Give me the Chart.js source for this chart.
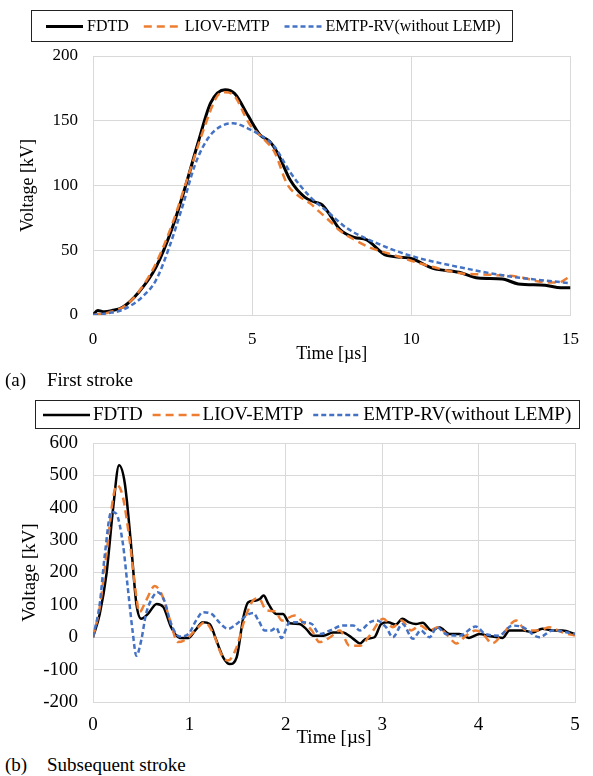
<!DOCTYPE html>
<html>
<head>
<meta charset="utf-8">
<script src="https://cdn.jsdelivr.net/npm/chart.js@4.4.1/dist/chart.umd.min.js"></script>
<style>
  body { margin: 0; background: #fff; }
  #page { position: relative; width: 593px; height: 776px; overflow: hidden; }
  .box { position: absolute; left: 0; width: 593px; height: 365px; }
  .cap { position: absolute; font-family: "Liberation Serif", serif; font-size: 19px; line-height: 20px; color: #000; white-space: nowrap; z-index: 2; }
</style>
</head>
<body>
<div id="page">
  <div class="box" style="top:0"><canvas id="chartA"></canvas></div>
  <div class="box" style="top:384px"><canvas id="chartB"></canvas></div>
  <div class="cap" style="left:5px; top:370px">(a)</div>
  <div class="cap" style="left:47px; top:370px">First stroke</div>
  <div class="cap" style="left:5px; top:755px">(b)</div>
  <div class="cap" style="left:47px; top:755px">Subsequent stroke</div>
</div>
<script>
// (a) first stroke, time in us, voltage in kV
var tA_fdtd = [0, 0.15, 0.35, 0.6, 0.93, 1.45, 1.98, 2.5, 2.9, 3.3, 3.7, 4.15, 4.45, 4.87, 5.25, 5.55, 5.8, 6.2, 6.65, 7.0, 7.2, 7.45, 7.76, 8.2, 8.6, 9.22, 9.94, 10.68, 11.5, 12.1, 12.86, 13.36, 14.2, 14.7, 15];
var vA_fdtd = [0, 3.5, 2.5, 3.5, 6, 18, 37, 68, 99, 133, 164, 174, 171, 154, 139, 134, 125, 104, 91, 87, 85, 77, 66, 60, 58, 46, 44, 36, 33, 28.5, 27.8, 24, 23, 21, 21];
var tA_liov = [0, 0.5, 1.0, 1.5, 2.0, 2.5, 3.0, 3.5, 3.9, 4.15, 4.45, 4.9, 5.4, 5.7, 6.1, 6.45, 6.83, 7.1, 7.46, 7.76, 8.3, 8.7, 9.22, 10.25, 11.5, 12.5, 13.36, 14.1, 14.6, 15];
var vA_liov = [0, 2, 7, 20, 41, 71, 108, 145, 169, 172, 169, 148, 135, 126, 101, 92, 86, 80, 72, 65, 57, 52, 48, 40, 32.5, 31, 29.5, 25.5, 25, 30];
var tA_emtp = [0, 0.5, 0.93, 1.55, 1.98, 2.39, 2.8, 3.22, 3.63, 4.04, 4.4, 4.87, 5.25, 5.7, 6.2, 6.83, 7.36, 7.98, 8.91, 9.94, 11.5, 13.04, 15];
var vA_emtp = [0, 1.5, 4, 14, 27, 52, 83, 117, 137, 146, 148, 144, 139, 130, 110, 91, 80, 67, 55.5, 46, 37, 30, 24.5];

// (b) subsequent stroke
var tB_fdtd = [0, 0.07, 0.14, 0.21, 0.27, 0.33, 0.40, 0.45, 0.50, 0.57, 0.66, 0.73, 0.81, 0.90, 0.99, 1.06, 1.14, 1.21, 1.28, 1.35, 1.42, 1.49, 1.56, 1.61, 1.68, 1.73, 1.77, 1.82, 1.90, 1.97, 2.04, 2.14, 2.21, 2.28, 2.39, 2.49, 2.59, 2.70, 2.77, 2.83, 2.92, 2.99, 3.06, 3.14, 3.21, 3.28, 3.35, 3.42, 3.51, 3.59, 3.70, 3.80, 3.90, 4.01, 4.11, 4.25, 4.32, 4.46, 4.56, 4.66, 4.77, 4.87, 5.0];
var vB_fdtd = [0, 72, 196, 402, 531, 475, 268, 103, 57, 72, 103, 93, 31, -2, -2, 21, 46, 41, -10, -62, -83, -62, 62, 108, 113, 118, 129, 103, 72, 72, 43, 41, 26, 5, 5, 15, 15, -5, -19, -5, 0, 41, 46, 39, 57, 46, 41, 45, 21, 31, 10, 10, -2, 10, 4, -2, 21, 21, 15, 26, 21, 21, 10];
var tB_liov = [0, 0.07, 0.14, 0.21, 0.25, 0.31, 0.38, 0.45, 0.48, 0.55, 0.64, 0.71, 0.80, 0.88, 0.97, 1.06, 1.16, 1.25, 1.33, 1.40, 1.49, 1.57, 1.66, 1.72, 1.80, 1.89, 1.96, 2.09, 2.18, 2.27, 2.35, 2.46, 2.56, 2.66, 2.77, 2.87, 3.01, 3.11, 3.20, 3.30, 3.39, 3.49, 3.58, 3.68, 3.77, 3.87, 3.97, 4.06, 4.14, 4.25, 4.39, 4.49, 4.63, 4.73, 4.87, 5.0];
var vB_liov = [0, 93, 258, 433, 470, 433, 299, 124, 77, 113, 158, 134, 52, -15, -5, 21, 46, 10, -52, -72, -31, 52, 113, 120, 83, 80, 52, 67, 46, 21, -15, 0, 21, -26, -26, 5, 57, 31, 52, 21, 36, 21, 31, 5, -19, 5, 21, 5, -19, 10, 52, 21, 21, 31, 15, 5];
var tB_emtp = [0, 0.07, 0.12, 0.19, 0.24, 0.31, 0.36, 0.41, 0.45, 0.50, 0.55, 0.62, 0.67, 0.74, 0.81, 0.90, 0.99, 1.07, 1.14, 1.23, 1.31, 1.40, 1.49, 1.59, 1.66, 1.72, 1.78, 1.85, 1.90, 1.955, 2.04, 2.18, 2.27, 2.35, 2.46, 2.59, 2.70, 2.77, 2.87, 2.94, 3.04, 3.11, 3.21, 3.32, 3.40, 3.49, 3.57, 3.66, 3.80, 3.97, 4.07, 4.21, 4.35, 4.46, 4.63, 4.77, 5.0];
var vB_emtp = [0, 103, 248, 387, 382, 289, 155, 21, -57, -10, 72, 124, 139, 113, 41, 2, 10, 52, 77, 72, 46, 26, 41, 67, 75, 50, 21, 21, 30, -2, 46, 46, 41, 10, 21, 36, 36, 21, 46, 52, 31, 0, 41, -5, 21, 0, 31, 10, 5, 33, 10, 5, 36, 31, 0, 21, 10];

var seriesNames = ['FDTD', 'LIOV-EMTP', 'EMTP-RV(without LEMP)'];
var FONT = '"Liberation Serif", "Times New Roman", serif';
var GRID = '#d9d9d9';

function pts(t, v) {
  return t.map(function (x, i) { return { x: x, y: v[i] }; });
}

function makeSets(a, b, c, w) {
  return [
    { label: seriesNames[0], data: a, borderColor: '#000000', borderWidth: w, order: 3 },
    { label: seriesNames[1], data: b, borderColor: '#ed7d31', borderWidth: 2.5, borderDash: [8, 5], order: 2 },
    { label: seriesNames[2], data: c, borderColor: '#4472c4', borderWidth: 2.5, borderDash: [5, 3], order: 1 }
  ];
}

// legend drawn inside a framed box, like the original
var boxLegend = {
  id: 'boxLegend',
  afterDraw: function (chart, args, o) {
    var ctx = chart.ctx;
    ctx.save();
    ctx.strokeStyle = '#222';
    ctx.lineWidth = 1;
    ctx.strokeRect(o.x + 0.5, o.y + 0.5, o.w, o.h);
    ctx.font = o.size + 'px ' + FONT;
    ctx.textBaseline = 'middle';
    ctx.fillStyle = '#000';
    var x = o.x + o.padLeft;
    var cy = o.y + o.h / 2 + 1;
    chart.data.datasets.forEach(function (ds) {
      ctx.strokeStyle = ds.borderColor;
      ctx.lineWidth = ds.borderWidth;
      ctx.setLineDash(ds.borderDash || []);
      ctx.beginPath();
      ctx.moveTo(x, cy);
      ctx.lineTo(x + o.line, cy);
      ctx.stroke();
      ctx.setLineDash([]);
      x += o.line + o.textGap;
      ctx.fillText(ds.label, x, cy);
      x += ctx.measureText(ds.label).width + o.itemGap;
    });
    ctx.restore();
  }
};

function makeChart(id, sets, cfg) {
  return new Chart(document.getElementById(id), {
    type: 'line',
    data: { datasets: sets },
    plugins: [boxLegend],
    options: {
      responsive: true,
      maintainAspectRatio: false,
      animation: false,
      layout: { padding: { top: cfg.top, right: cfg.right, left: 0, bottom: 0 } },
      elements: {
        point: { radius: 0 },
        line: { cubicInterpolationMode: 'monotone', fill: false }
      },
      plugins: {
        legend: { display: false },
        tooltip: { enabled: false },
        boxLegend: cfg.legend
      },
      scales: {
        x: {
          type: 'linear', min: cfg.xMin, max: cfg.xMax,
          afterFit: function (s) { s.height = cfg.xHeight; },
          grid: { color: GRID, drawTicks: false },
          border: { color: GRID },
          ticks: { stepSize: cfg.xStep, padding: cfg.xPad, color: '#000', font: { family: FONT, size: cfg.tick } },
          title: { display: true, text: 'Time [\u00b5s]', color: '#000', padding: 0, font: { family: FONT, size: cfg.title } }
        },
        y: {
          min: cfg.yMin, max: cfg.yMax,
          afterFit: function (s) { s.width = 93; },
          grid: { color: GRID, drawTicks: false },
          border: { color: GRID },
          ticks: { stepSize: cfg.yStep, padding: 15, color: '#000', font: { family: FONT, size: cfg.tick } },
          title: { display: true, text: 'Voltage [kV]', color: '#000', padding: { top: cfg.yTitlePad, bottom: 0 }, font: { family: FONT, size: cfg.title } }
        }
      }
    }
  });
}

makeChart('chartA', makeSets(pts(tA_fdtd, vA_fdtd), pts(tA_liov, vA_liov), pts(tA_emtp, vA_emtp), 3), {
  top: 56, right: 17, xHeight: 50, xPad: 14, tick: 17, title: 18, yTitlePad: 17,
  xMin: 0, xMax: 15, xStep: 5, yMin: 0, yMax: 200, yStep: 50,
  legend: { x: 31, y: 10, w: 481, h: 31, padLeft: 15, line: 37, textGap: 4, itemGap: 15, size: 16 }
});

makeChart('chartB', makeSets(pts(tB_fdtd, vB_fdtd), pts(tB_liov, vB_liov), pts(tB_emtp, vB_emtp), 2.5), {
  top: 59, right: 18, xHeight: 47, xPad: 12, tick: 19, title: 19, yTitlePad: 19,
  xMin: 0, xMax: 5, xStep: 1, yMin: -200, yMax: 600, yStep: 100,
  legend: { x: 35, y: 16, w: 544, h: 28, padLeft: 8, line: 47, textGap: 3, itemGap: 10, size: 19 }
});
</script>
</body>
</html>
